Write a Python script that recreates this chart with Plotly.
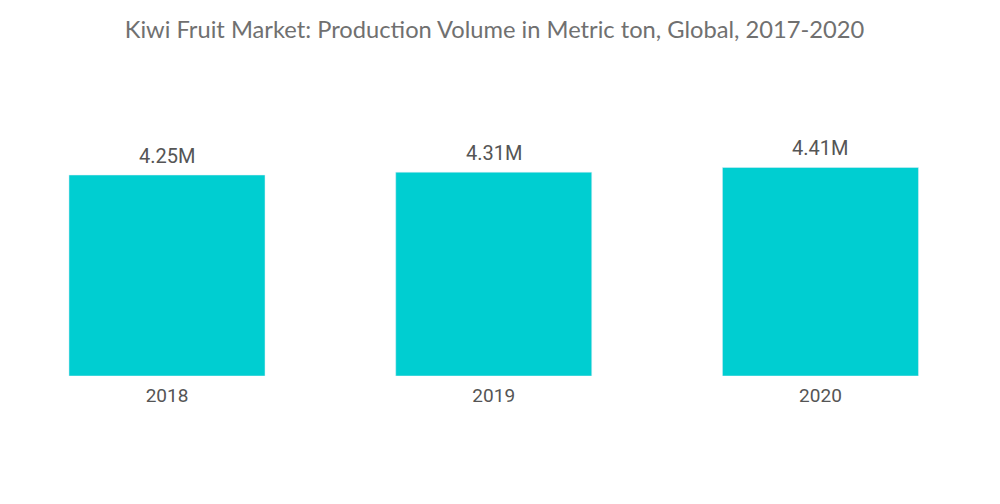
import plotly.graph_objects as go

# values (million metric tons)
years = ["2018", "2019", "2020"]
volume = [4.25, 4.31, 4.41]
labels = ["4.25M", "4.31M", "4.41M"]

fig = go.Figure()
fig.add_bar(x=years, y=volume, marker_color="#00CED1", width=0.6)

for i, (v, lab) in enumerate(zip(volume, labels)):
    fig.add_annotation(
        x=i, y=v, text=lab, showarrow=False, yanchor="bottom", yshift=5,
        font=dict(family="Roboto", size=20, color="#555555"),
    )

fig.update_layout(
    width=1000, height=504,
    paper_bgcolor="white", plot_bgcolor="white",
    margin=dict(l=0, r=16, t=100, b=136),
    title=dict(
        text="Kiwi Fruit Market: Production Volume in Metric ton, Global, 2017-2020",
        x=0.4865, xref="container", xanchor="center", y=0.956, yanchor="middle",
        font=dict(family="Lato", size=23.7, color="#707070"),
    ),
    showlegend=False,
)
fig.update_xaxes(type="category", showline=False, showgrid=False, ticks="",
                 range=[-0.4866, 2.525], ticklabelstandoff=6,
                 tickfont=dict(family="Roboto", size=19, color="#555555"))
fig.update_yaxes(visible=False, range=[0, 5.667])

fig.write_html("out.html")
